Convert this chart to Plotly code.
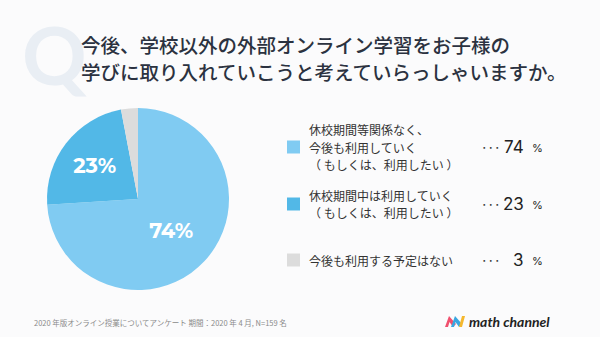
import plotly.graph_objects as go

W, H = 600, 337

# Survey answers (one list entry per printed line)
answers = [
    ["休校期間等関係なく、", "今後も利用していく", "（ もしくは、利用したい ）"],
    ["休校期間中は利用していく", "（ もしくは、利用したい ）"],
    ["今後も利用する予定はない"],
]
shares = [74, 23, 3]
slice_colors = ["#80cbf2", "#52b8e7", "#dcdcdc"]

question_lines = [
    "今後、学校以外の外部オンライン学習をお子様の",
    "学びに取り入れていこうと考えていらっしゃいますか。",
]
source_note = "2020 年版オンライン授業についてアンケート 期間：2020 年 4 月, N=159 名"
brand = "math channel"

JP = "Noto Sans CJK JP"


def px(x):
    return x / W


def py(y):
    return 1 - y / H


fig = go.Figure()

fig.add_trace(go.Pie(
    values=shares,
    labels=["".join(a) for a in answers],
    marker=dict(colors=slice_colors, line=dict(width=0)),
    sort=False,
    direction="clockwise",
    rotation=0,
    text=[f"{v}%" if v >= 10 else "" for v in shares],
    textinfo="text",
    textposition="inside",
    insidetextorientation="horizontal",
    insidetextfont=dict(family="Montserrat, Lato, sans-serif", size=21, color="white", weight="bold"),
    domain=dict(x=[px(47), px(229)], y=[py(290), py(108)]),
    showlegend=False,
    hoverinfo="label+percent",
))

ann = []
shapes = []

# Big faint "Q" behind the question
ann.append(dict(x=px(55), y=py(54), text="Q", showarrow=False,
                font=dict(family="Lato", size=80, color="#e9eef4", weight="bold"),
                xanchor="center", yanchor="middle"))

# Question text
for i, line in enumerate(question_lines):
    ann.append(dict(x=px(79), y=py(44 + 27 * i), text=line, showarrow=False,
                    font=dict(family=JP, size=19.5, color="#2b3240", weight=500),
                    xanchor="left", yanchor="middle"))

# Legend rows: swatch, answer text, dotted leader, value
row_y = [147, 204, 260]
line_gap = 17.5
for lines, v, c, y in zip(answers, shares, slice_colors, row_y):
    shapes.append(dict(type="rect", xref="paper", yref="paper",
                       x0=px(287), x1=px(300), y0=py(y + 6.5), y1=py(y - 6.5),
                       fillcolor=c, line=dict(width=0)))
    first = y - line_gap * (len(lines) - 1) / 2
    for k, text in enumerate(lines):
        ann.append(dict(x=px(308), y=py(first + line_gap * k), text=text, showarrow=False,
                        font=dict(family=JP, size=12, color="#333333"),
                        xanchor="left", yanchor="middle", align="left", borderpad=0))
    ann.append(dict(x=px(480), y=py(y), text="･ ･ ･", showarrow=False,
                    font=dict(family=JP, size=9, color="#333333", weight="bold"),
                    xanchor="left", yanchor="middle"))
    ann.append(dict(x=px(526), y=py(y), text=str(v), showarrow=False,
                    font=dict(family="Inter, sans-serif", size=17, color="#222222"),
                    xanchor="right", yanchor="middle"))
    ann.append(dict(x=px(530), y=py(y + 1), text="%", showarrow=False,
                    font=dict(family="Inter, sans-serif", size=11, color="#222222"),
                    xanchor="left", yanchor="middle"))

# Footer
ann.append(dict(x=px(32), y=py(322), text=source_note, showarrow=False,
                font=dict(family=JP, size=7.5, color="#8a8a8a"),
                xanchor="left", yanchor="middle"))
ann.append(dict(x=px(467), y=py(321), text=f"<i>{brand}</i>", showarrow=False,
                font=dict(family="Lato", size=14, color="#222222", weight="bold"),
                xanchor="left", yanchor="middle"))

# Brand mark: two chevrons and a slanted bar
shapes.append(dict(type="path", xref="paper", yref="paper",
                   path=(f"M {px(445)},{py(327)} L {px(449)},{py(316)} L {px(456)},{py(324)} "
                         f"L {px(453)},{py(327)} L {px(449.5)},{py(322)} L {px(448)},{py(327)} Z"),
                   fillcolor="#f0506e", line=dict(width=0)))
shapes.append(dict(type="path", xref="paper", yref="paper",
                   path=(f"M {px(451)},{py(327)} L {px(455)},{py(316)} L {px(462)},{py(324)} "
                         f"L {px(459)},{py(327)} L {px(455.5)},{py(322)} L {px(454)},{py(327)} Z"),
                   fillcolor="#3aa6e0", line=dict(width=0)))
shapes.append(dict(type="path", xref="paper", yref="paper",
                   path=(f"M {px(459)},{py(327)} L {px(462)},{py(316)} L {px(465)},{py(316)} "
                         f"L {px(462)},{py(327)} Z"),
                   fillcolor="#f5b82e", line=dict(width=0)))

fig.update_layout(
    width=W, height=H,
    margin=dict(l=0, r=0, t=0, b=0),
    paper_bgcolor="#fbfbfc",
    plot_bgcolor="#fbfbfc",
    annotations=ann,
    shapes=shapes,
)

fig.write_html("out.html")
